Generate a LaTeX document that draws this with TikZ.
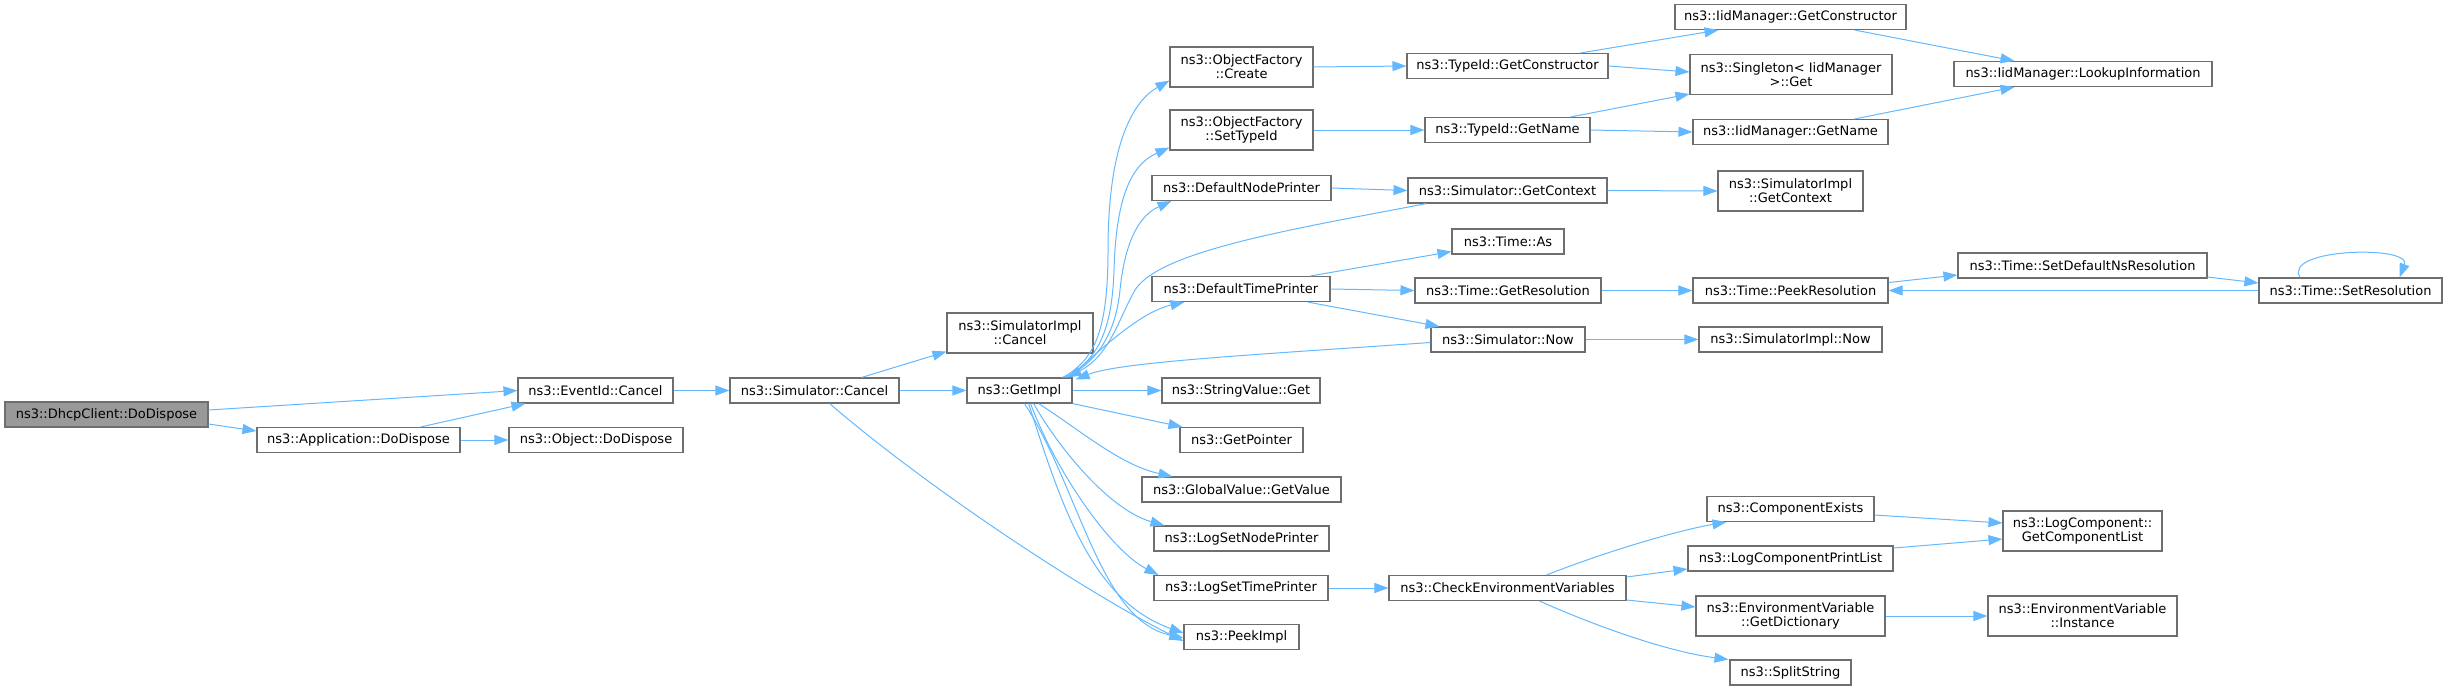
\documentclass[tikz,border=0pt]{standalone}
\usepackage{fontspec}
\setmainfont{DejaVu Sans}
\usetikzlibrary{arrows.meta}
\definecolor{edgec}{HTML}{63B8FF}
\definecolor{boxc}{HTML}{6E6E6E}
\definecolor{rootc}{HTML}{999999}
\begin{document}
\begin{tikzpicture}[x=1pt,y=-1pt,
 fn/.style={draw=boxc, line width=1.1pt, fill=white, inner sep=0pt, align=center, font=\fontsize{13}{14}\selectfont, minimum height=25pt},
 dn/.style={fn, minimum height=40pt},
 call/.style={draw=edgec, line width=1pt, -{Triangle[length=14pt,width=10pt]}}]
\useasboundingbox (0,0) rectangle (2448,691);
% nodes
\node[fn, fill=rootc, minimum width=203pt] (dhcp) at (106.5,414.5) {ns3::DhcpClient::DoDispose};
\node[fn, minimum width=203pt] (app) at (358.5,440) {ns3::Application::DoDispose};
\node[fn, minimum width=155pt] (evc) at (595.5,390.5) {ns3::EventId::Cancel};
\node[fn, minimum width=174pt] (objd) at (596,440) {ns3::Object::DoDispose};
\node[fn, minimum width=169pt] (simc) at (814.5,390.5) {ns3::Simulator::Cancel};
\node[dn, minimum width=146pt] (simic) at (1020,333) {ns3::SimulatorImpl\\::Cancel};
\node[fn, minimum width=105pt] (getimpl) at (1019.5,390.5) {ns3::GetImpl};
\node[dn, minimum width=143pt] (ofc) at (1241.5,67) {ns3::ObjectFactory\\::Create};
\node[dn, minimum width=143pt] (ofs) at (1241.5,130) {ns3::ObjectFactory\\::SetTypeId};
\node[fn, minimum width=179pt] (dnp) at (1241.5,188) {ns3::DefaultNodePrinter};
\node[fn, minimum width=178pt] (dtp) at (1241,289) {ns3::DefaultTimePrinter};
\node[fn, minimum width=158pt] (svg) at (1241,390.5) {ns3::StringValue::Get};
\node[fn, minimum width=123pt] (gp) at (1241.5,440) {ns3::GetPointer};
\node[fn, minimum width=199pt] (gvv) at (1241.5,489.5) {ns3::GlobalValue::GetValue};
\node[fn, minimum width=175pt] (lsnp) at (1241.5,538.5) {ns3::LogSetNodePrinter};
\node[fn, minimum width=174pt] (lstp) at (1241,588) {ns3::LogSetTimePrinter};
\node[fn, minimum width=115pt] (peek) at (1241.5,637) {ns3::PeekImpl};
\node[fn, minimum width=201pt] (tgc) at (1507.5,66) {ns3::TypeId::GetConstructor};
\node[fn, minimum width=165pt] (tgn) at (1507.5,130) {ns3::TypeId::GetName};
\node[fn, minimum width=199pt] (sgc) at (1507.5,190.5) {ns3::Simulator::GetContext};
\node[fn, minimum width=112pt] (tas) at (1508,241.5) {ns3::Time::As};
\node[fn, minimum width=186pt] (tgr) at (1508,290.5) {ns3::Time::GetResolution};
\node[fn, minimum width=154pt] (snow) at (1508,339.5) {ns3::Simulator::Now};
\node[fn, minimum width=237pt] (cev) at (1507.5,588) {ns3::CheckEnvironmentVariables};
\node[fn, minimum width=231pt] (igc) at (1790.5,17) {ns3::IidManager::GetConstructor};
\node[dn, minimum width=202pt] (sing) at (1791,74.5) {ns3::Singleton< IidManager\\ >::Get};
\node[fn, minimum width=195pt] (ign) at (1790.5,132) {ns3::IidManager::GetName};
\node[dn, minimum width=145pt] (sigc) at (1790.5,191) {ns3::SimulatorImpl\\::GetContext};
\node[fn, minimum width=195pt] (tpr) at (1790.5,290.5) {ns3::Time::PeekResolution};
\node[fn, minimum width=183pt] (sin) at (1790.5,339.5) {ns3::SimulatorImpl::Now};
\node[fn, minimum width=167pt] (cex) at (1790.5,509) {ns3::ComponentExists};
\node[fn, minimum width=205pt] (lcpl) at (1790.5,558.5) {ns3::LogComponentPrintList};
\node[dn, minimum width=189pt] (gdict) at (1790.5,616) {ns3::EnvironmentVariable\\::GetDictionary};
\node[fn, minimum width=121pt] (split) at (1790.5,672.5) {ns3::SplitString};
\node[fn, minimum width=258pt] (lookup) at (2083,74) {ns3::IidManager::LookupInformation};
\node[fn, minimum width=249pt] (sdns) at (2082.5,265.5) {ns3::Time::SetDefaultNsResolution};
\node[fn, minimum width=183pt] (sres) at (2350.5,290.5) {ns3::Time::SetResolution};
\node[dn, minimum width=159pt] (gcl) at (2082.5,531) {ns3::LogComponent::\\GetComponentList};
\node[dn, minimum width=189pt] (inst) at (2082.5,616) {ns3::EnvironmentVariable\\::Instance};
% edges
\draw[call] ([yshift=4.5pt]dhcp.east) -- (evc.west);
\draw[call] ([yshift=-9.5pt]dhcp.east) -- ([yshift=9pt]app.west);
\draw[call] ([xshift=-40pt]app.north east) -- ([xshift=8pt]evc.south west);
\draw[call] (app.east) -- (objd.west);
\draw[call] (evc.east) -- (simc.west);
\draw[call] ([xshift=-38pt]simc.north east) -- ([yshift=2pt]simic.south west);
\draw[call] (simc.east) -- (getimpl.west);
\draw[call] ([xshift=-70pt]simc.south east) .. controls (930,490) and (1090,595) .. ([yshift=-4pt]peek.west);
% GetImpl upward
\draw[call] ([xshift=-10pt]getimpl.north east) .. controls (1095,360) and (1108,330) .. (1108,250) .. controls (1108,140) and (1135,100) .. ([yshift=7pt]ofc.south west);
\draw[call] ([xshift=-8pt]getimpl.north east) .. controls (1095,362) and (1112,335) .. (1114,270) .. controls (1116,200) and (1130,165) .. ([yshift=3pt]ofs.south west);
\draw[call] ([xshift=-6pt]getimpl.north east) .. controls (1100,360) and (1116,330) .. (1120,290) .. controls (1125,240) and (1140,215) .. ([xshift=20pt]dnp.south west);
\draw[call] ([xshift=-3pt]getimpl.north east) .. controls (1100,350) and (1140,312) .. ([xshift=33pt]dtp.south west);
% into GetImpl
\draw[call] ([xshift=19pt]sgc.south west) .. controls (1300,228) and (1160,250) .. (1135,290) .. controls (1118,320) and (1110,355) .. ([xshift=-5pt]getimpl.north east);
\draw[call] ([yshift=-3pt]snow.west) .. controls (1250,355) and (1120,362) .. ([xshift=3pt,yshift=-2pt]getimpl.north east);
% DefaultTimePrinter
\draw[call] ([xshift=-23pt]dtp.south east) -- ([xshift=9pt]snow.north west);
\draw[call] ([xshift=-20pt]dtp.north east) -- ([yshift=3pt]tas.south west);
\draw[call] (dtp.east) -- (tgr.west);
% GetImpl right/down
\draw[call] (getimpl.east) -- (svg.west);
\draw[call] (getimpl.south east) -- ([xshift=3pt]gp.north west);
\draw[call] ([xshift=-34pt]getimpl.south east) .. controls (1080,430) and (1120,465) .. ([xshift=31pt]gvv.north west);
\draw[call] ([xshift=-39pt]getimpl.south east) .. controls (1060,450) and (1110,510) .. ([xshift=11pt]lsnp.north west);
\draw[call] ([xshift=-42pt]getimpl.south east) .. controls (1055,470) and (1110,550) .. ([xshift=5pt]lstp.north west);
\draw[call] ([xshift=-44pt]getimpl.south east) .. controls (1060,500) and (1090,600) .. ([yshift=4pt]peek.west);
\draw[call] ([xshift=-48pt]getimpl.south east) .. controls (1080,490) and (1100,620) .. ([yshift=-1pt]peek.west);
% factory / typeid
\draw[call] (ofc.east) -- (tgc.west);
\draw[call] (ofs.east) -- (tgn.west);
\draw[call] ([xshift=-28pt]tgc.north east) -- ([xshift=44pt]igc.south west);
\draw[call] (tgc.east) -- ([yshift=2.5pt]sing.west);
\draw[call] ([xshift=-20pt]tgn.north east) -- ([yshift=1pt]sing.south west);
\draw[call] (tgn.east) -- (ign.west);
\draw[call] ([xshift=-52pt]igc.south east) -- ([xshift=61pt]lookup.north west);
\draw[call] ([xshift=-34pt]ign.north east) -- ([xshift=61pt]lookup.south west);
% context / time
\draw[call] (dnp.east) -- (sgc.west);
\draw[call] (sgc.east) -- (sigc.west);
\draw[call] (tgr.east) -- (tpr.west);
\draw[call] ([yshift=8pt]tpr.east) -- ([yshift=-9.5pt]sdns.west);
\draw[call] ([yshift=-11.5pt]sdns.east) -- ([yshift=7.5pt]sres.west);
\draw[call] (sres.west) -- (tpr.east);
\draw[call] ([xshift=-50.5pt]sres.north) .. controls (2282,248) and (2412,245) .. ([xshift=49pt]sres.north);
\draw[call] (snow.east) -- (sin.west);
% log
\draw[call] (lstp.east) -- (cev.west);
\draw[call] ([xshift=-80pt]cev.north east) .. controls (1610,550) and (1680,530) .. ([xshift=20pt]cex.south west);
\draw[call] ([yshift=11pt]cev.east) -- ([yshift=-10.5pt]lcpl.west);
\draw[call] ([yshift=-12pt]cev.east) -- ([yshift=9pt]gdict.west);
\draw[call] ([xshift=-87pt]cev.south east) .. controls (1600,628) and (1670,652) .. ([xshift=-1pt]split.north west);
\draw[call] ([yshift=-6pt]cex.east) -- ([yshift=8pt]gcl.west);
\draw[call] ([yshift=10.5pt]lcpl.east) -- ([yshift=-8pt]gcl.west);
\draw[call] (gdict.east) -- (inst.west);
\end{tikzpicture}
\end{document}
